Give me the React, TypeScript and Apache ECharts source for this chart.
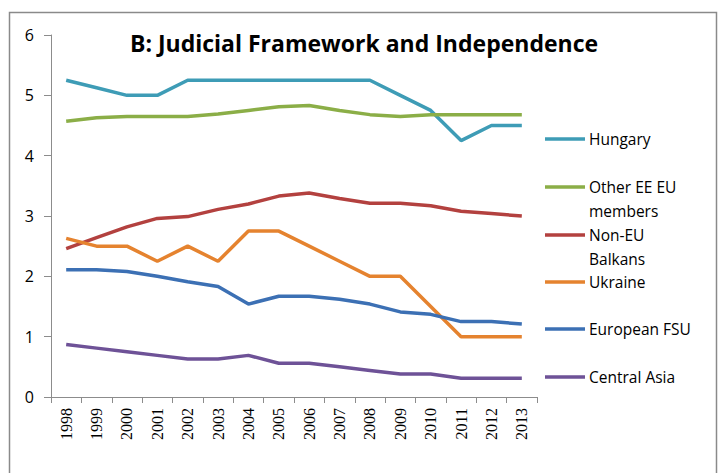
import React, { useEffect, useRef } from "react";
import * as echarts from "echarts";

const years = ["1998","1999","2000","2001","2002","2003","2004","2005","2006","2007","2008","2009","2010","2011","2012","2013"];
const hungary = [5.25,5.125,5.0,5.0,5.25,5.25,5.25,5.25,5.25,5.25,5.25,5.0,4.75,4.25,4.5,4.5];
const otherEE = [4.57,4.63,4.65,4.65,4.65,4.69,4.75,4.81,4.83,4.75,4.68,4.65,4.68,4.68,4.68,4.68];
const nonEUBalkans = [2.46,2.64,2.82,2.96,2.99,3.11,3.2,3.33,3.38,3.29,3.21,3.21,3.17,3.08,3.04,3.0];
const ukraine = [2.63,2.5,2.5,2.25,2.5,2.25,2.75,2.75,2.5,2.25,2.0,2.0,1.5,1.0,1.0,1.0];
const europeanFSU = [2.11,2.11,2.08,2.0,1.91,1.83,1.54,1.67,1.67,1.62,1.54,1.41,1.37,1.25,1.25,1.21];
const centralAsia = [0.87,0.81,0.75,0.69,0.63,0.63,0.69,0.56,0.56,0.5,0.44,0.38,0.38,0.31,0.31,0.31];

const seriesNames = ["Hungary", "Other EE EU members", "Non-EU Balkans", "Ukraine", "European FSU", "Central Asia"];
const legendLabels = ["Hungary", "Other EE EU\nmembers", "Non-EU\nBalkans", "Ukraine", "European FSU", "Central Asia"];
const colors = ["#3E9CB6", "#8BAE47", "#B3413F", "#E5832F", "#3C70B4", "#6E5297"];
const legendY = [139, 187, 235, 282, 329, 377];

export default function App() {
  const ref = useRef<HTMLDivElement>(null);
  useEffect(() => {
    if (!ref.current) return;
    const chart = echarts.init(ref.current, null, { renderer: "svg" });
    const data = [hungary, otherEE, nonEUBalkans, ukraine, europeanFSU, centralAsia];
    const font = "Open Sans";
    const graphics: any[] = [
      {
        type: "rect",
        shape: { x: 9.5, y: 12.5, width: 707, height: 480 },
        style: { fill: "none", stroke: "#8a8a8a", lineWidth: 1.5 },
        silent: true,
      },
      {
        type: "text",
        x: 364,
        y: 43,
        style: {
          text: "B: Judicial Framework and Independence",
          font: "bold 23px 'Open Sans', sans-serif",
          fill: "#000",
          align: "center",
          verticalAlign: "middle",
        },
      },
    ];
    legendLabels.forEach((lab, i) => {
      graphics.push({
        type: "line",
        shape: { x1: 545, y1: legendY[i], x2: 585, y2: legendY[i] },
        style: { stroke: colors[i], lineWidth: 3.5 },
      });
      graphics.push({
        type: "text",
        x: 589,
        y: legendY[i] - 12,
        style: {
          text: lab,
          font: `15.5px '${font}', sans-serif`,
          fill: "#000",
          align: "left",
          verticalAlign: "top",
          lineHeight: 24,
        },
      });
    });
    chart.setOption({
      animation: false,
      backgroundColor: "#fff",
      grid: { left: 51, right: 186, top: 35, bottom: 76 },
      xAxis: {
        type: "category",
        data: years,
        boundaryGap: true,
        axisLine: { lineStyle: { color: "#8c8c8c", width: 1 } },
        axisTick: { show: true, length: 6, lineStyle: { color: "#8c8c8c" } },
        axisLabel: { rotate: 90, fontSize: 16, color: "#000", fontFamily: "Liberation Sans Narrow", margin: 11 },
      },
      yAxis: {
        type: "value",
        min: 0,
        max: 6,
        interval: 1,
        splitLine: { show: false },
        axisLine: { show: true, lineStyle: { color: "#8c8c8c", width: 1 } },
        axisTick: { show: true, length: 7, lineStyle: { color: "#8c8c8c" } },
        axisLabel: { fontSize: 16, color: "#000", fontFamily: font, margin: 17 },
      },
      series: data.map((d, i) => ({
        name: seriesNames[i],
        type: "line",
        data: d,
        symbol: "none",
        lineStyle: { color: colors[i], width: 3.5 },
        itemStyle: { color: colors[i] },
      })),
      graphic: graphics,
    });
    return () => chart.dispose();
  }, []);
  return (
    <div
      ref={ref}
      style={{ position: "absolute", left: 0, top: 0, width: 723, height: 473 }}
    />
  );
}
